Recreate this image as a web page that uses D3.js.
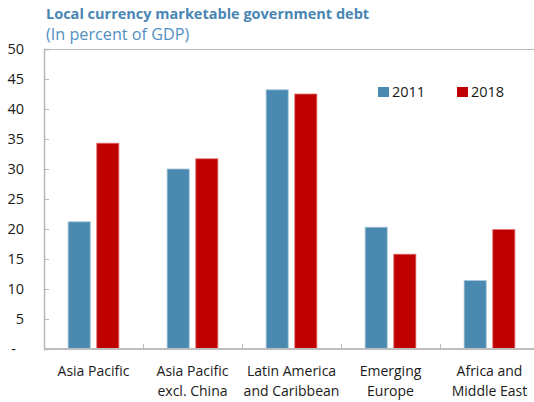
<!DOCTYPE html>
<html>
<head>
<meta charset="utf-8">
<script src="https://cdn.jsdelivr.net/npm/d3@7/dist/d3.min.js"></script>
<style>
  html, body { margin: 0; padding: 0; background: #fff; }
  svg { display: block; overflow: hidden; }
  text { font-family: "Open Sans", "Noto Sans", sans-serif; fill: #1a1a1a; }
</style>
</head>
<body>
<script>
// Local currency marketable government debt, percent of GDP
const regions = [
  ["Asia Pacific"],
  ["Asia Pacific", "excl. China"],
  ["Latin America", "and Caribbean"],
  ["Emerging", "Europe"],
  ["Africa and", "Middle East"]
];
const seriesNames = ["2011", "2018"];
const values2011 = [21.2, 30.0, 43.2, 20.3, 11.4];
const values2018 = [34.3, 31.7, 42.5, 15.8, 19.9];
const yTicks = [0, 5, 10, 15, 20, 25, 30, 35, 40, 45, 50];
const colors = ["#4a8ab0", "#c00000"];

const W = 534, H = 402;
const plot = { left: 44, top: 49, bottom: 349, step: 99 };

const svg = d3.select("body").append("svg").attr("width", W).attr("height", H);

const keys = regions.map(r => r.join(" "));
const x = d3.scaleBand()
  .domain(keys)
  .range([plot.left, plot.left + plot.step * keys.length])
  .paddingInner(0).paddingOuter(0);
const xs = d3.scaleBand()
  .domain(seriesNames)
  .range([0, x.bandwidth()])
  .paddingInner(0.228).paddingOuter(0.842);
const y = d3.scaleLinear().domain([0, 50]).range([plot.bottom, plot.top]);

// Title
svg.append("text").attr("x", 46).attr("y", 19)
  .style("font-size", "14.5px").style("font-weight", "700").style("fill", "#4a86b4")
  .text("Local currency marketable government debt");
svg.append("text").attr("x", 46).attr("y", 40)
  .style("font-size", "16.2px").style("fill", "#5290c4")
  .text("(In percent of GDP)");

// Frame: top line
svg.append("line")
  .attr("x1", plot.left).attr("x2", W)
  .attr("y1", plot.top + 0.5).attr("y2", plot.top + 0.5)
  .attr("stroke", "#b8b8b8").attr("stroke-width", 1.2);

// Y axis with inward ticks
const yAxis = d3.axisRight(y)
  .tickValues(yTicks)
  .tickSize(5)
  .tickFormat(d => d === 0 ? "-" : d);
const yg = svg.append("g").attr("transform", `translate(${plot.left},0)`).call(yAxis);
yg.select(".domain").attr("stroke", "#b8b8b8").attr("stroke-width", 1.5);
yg.selectAll(".tick line").attr("stroke", "#b8b8b8");
yg.selectAll(".tick text")
  .attr("x", d => d === 0 ? -28 : -20)
  .attr("dy", "0.32em")
  .attr("text-anchor", "end")
  .style("font-size", "14.5px")
  .style("font-family", "\"Open Sans\", sans-serif")
  .style("fill", "#1a1a1a");

// Bars
const data = keys.map((k, i) => ({ key: k, vals: [values2011[i], values2018[i]] }));
const groups = svg.append("g").selectAll("g").data(data).join("g")
  .attr("transform", d => `translate(${x(d.key)},0)`);
groups.selectAll("rect")
  .data(d => d.vals.map((v, j) => ({ s: seriesNames[j], v, j })))
  .join("rect")
  .attr("x", d => xs(d.s))
  .attr("width", xs.bandwidth())
  .attr("y", d => y(d.v))
  .attr("height", d => y(0) - y(d.v))
  .attr("fill", d => colors[d.j])
  .attr("stroke", d => d.j === 0 ? "#a8c6da" : "#e07070")
  .attr("stroke-width", 0.8);

// X axis: boundary ticks between categories
const xAxisG = svg.append("g");
xAxisG.append("line")
  .attr("x1", plot.left).attr("x2", W)
  .attr("y1", plot.bottom).attr("y2", plot.bottom)
  .attr("stroke", "#bdbdbd").attr("stroke-width", 2);
xAxisG.selectAll("line.bt").data(keys.slice(1)).join("line")
  .attr("class", "bt")
  .attr("x1", d => x(d) + 0.5).attr("x2", d => x(d) + 0.5)
  .attr("y1", plot.bottom).attr("y2", plot.bottom - 5)
  .attr("stroke", "#bdbdbd").attr("stroke-width", 1);

// Category labels
const labels = svg.append("g").selectAll("text").data(regions).join("text")
  .attr("x", (d, i) => x(keys[i]) + x.bandwidth() / 2)
  .attr("y", 376)
  .attr("text-anchor", "middle")
  .style("font-size", "14px");
labels.selectAll("tspan").data(d => d).join("tspan")
  .attr("x", function () { return this.parentNode.getAttribute("x"); })
  .attr("dy", (d, i) => i === 0 ? 0 : 20)
  .text(d => d);

// Legend
const legend = svg.append("g");
const legendX = [378, 457];
seriesNames.forEach((s, i) => {
  legend.append("rect").attr("x", legendX[i]).attr("y", 87)
    .attr("width", 11).attr("height", 10).attr("fill", colors[i]);
  legend.append("text").attr("x", legendX[i] + 14).attr("y", 92)
    .attr("dy", "0.35em").style("font-size", "14.5px").text(s);
});
</script>
</body>
</html>
